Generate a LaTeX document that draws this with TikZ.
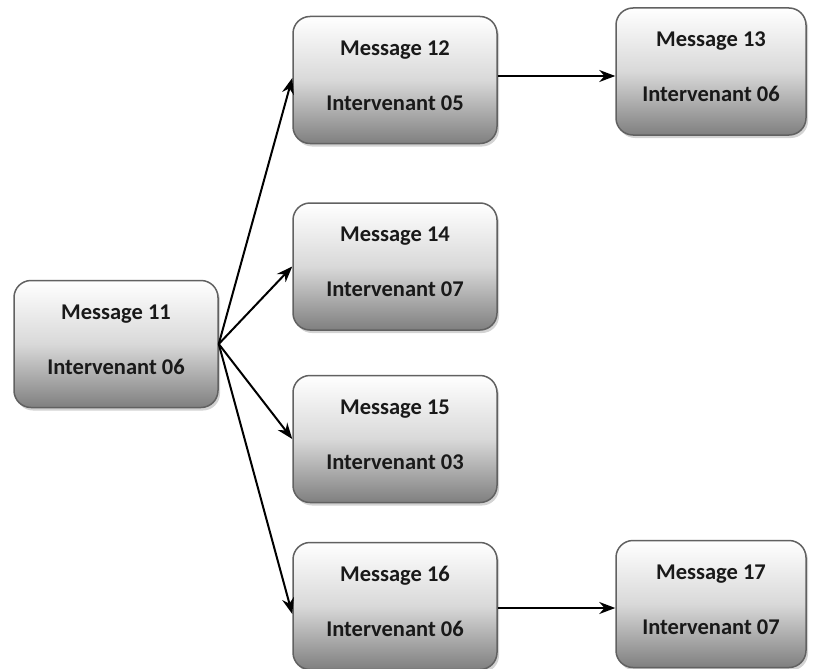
\documentclass[tikz,border=0pt]{standalone}
\usepackage{fontspec}
\setmainfont{Carlito}
\usetikzlibrary{arrows.meta,shadows}
\begin{document}
\begin{tikzpicture}[x=1pt,y=-1pt,
  msg/.style={draw=black!62, line width=1.5pt, rounded corners=17pt,
    top color=white, bottom color=black!50, middle color=black!15,
    minimum width=204pt, minimum height=127pt, align=center,
    font=\fontsize{22.5}{27}\selectfont\bfseries, text=black!90,
    text depth=9pt,
    drop shadow={shadow xshift=2pt, shadow yshift=-3pt, opacity=0.35}},
  narrow/.style={minimum width=190pt},
  conn/.style={-{Stealth[length=16pt,width=12pt]}, line width=2pt, black}]
\useasboundingbox (0,0) rectangle (819,669);
\node[msg] (m11) at (116,344) {Message 11\\[28pt]Intervenant 06};
\node[msg] (m12) at (395,80) {Message 12\\[28pt]Intervenant 05};
\node[msg,narrow] (m13) at (711,71.5) {Message 13\\[28pt]Intervenant 06};
\node[msg] (m14) at (395,266.5) {Message 14\\[28pt]Intervenant 07};
\node[msg] (m15) at (395,439) {Message 15\\[28pt]Intervenant 03};
\node[msg] (m16) at (395,606) {Message 16\\[28pt]Intervenant 06};
\node[msg,narrow] (m17) at (711,604) {Message 17\\[28pt]Intervenant 07};
\coordinate (src) at (m11.east);
\coordinate (a12) at ([yshift=4pt]m12.east);
\coordinate (a16) at ([yshift=-2pt]m16.east);
\draw[conn] (src) -- ([yshift=2pt]m12.west);
\draw[conn] (src) -- (m14.west);
\draw[conn] (src) -- (m15.west);
\draw[conn] (src) -- ([yshift=-8pt]m16.west);
\draw[conn] (a12) -- (m13.west |- a12);
\draw[conn] (a16) -- (m17.west |- a16);
\end{tikzpicture}
\end{document}
